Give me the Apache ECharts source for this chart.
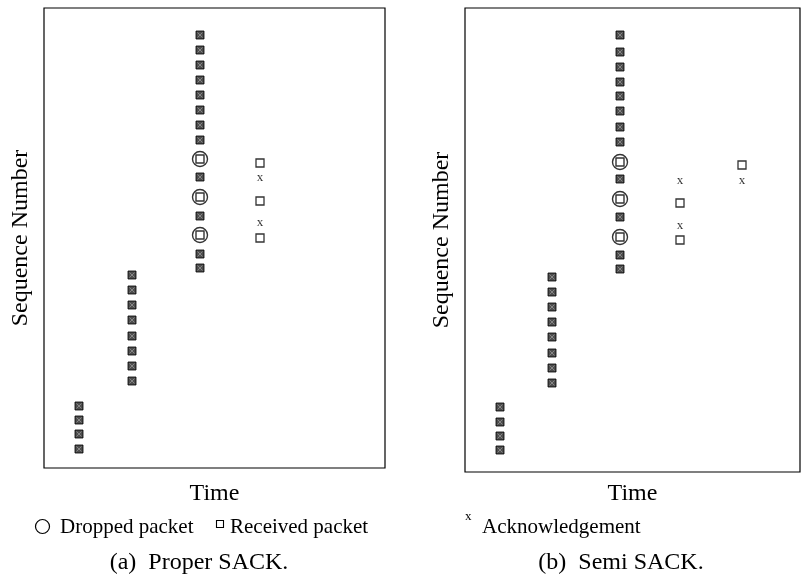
<!DOCTYPE html>
<html>
<head>
<meta charset="utf-8">
<script src="https://cdn.jsdelivr.net/npm/echarts@6/dist/echarts.min.js"></script>
<style>
  html, body { margin: 0; padding: 0; background: #fff; }
  #chart { width: 804px; height: 584px; }
</style>
</head>
<body>
<div id="chart"></div>
<script>
// Time / sequence-number pairs for each trace (time in arbitrary units).
// (a) Proper SACK
const properSent = [
  [3.5, 6.2], [3.5, 4.8], [3.5, 3.4], [3.5, 1.9],
  [8.8, 19.3], [8.8, 17.8], [8.8, 16.3], [8.8, 14.8], [8.8, 13.2], [8.8, 11.7], [8.8, 10.2], [8.8, 8.7],
  [15.6, 43.3], [15.6, 41.8], [15.6, 40.3], [15.6, 38.8], [15.6, 37.3], [15.6, 35.8], [15.6, 34.3], [15.6, 32.8],
  [15.6, 29.1], [15.6, 25.2], [15.6, 21.4], [15.6, 20.0]
];
const properDropped = [[15.6, 30.9], [15.6, 27.1], [15.6, 23.3]];
const properReceived = [[21.6, 30.5], [21.6, 26.7], [21.6, 23.0]];
const properAcks = [[21.6, 29.0], [21.6, 24.5]];

// (b) Semi SACK
const semiSent = [
  [3.5, 6.5], [3.5, 5.0], [3.5, 3.6], [3.5, 2.2],
  [8.7, 19.5], [8.7, 18.0], [8.7, 16.5], [8.7, 15.0], [8.7, 13.5], [8.7, 11.9], [8.7, 10.4], [8.7, 8.9],
  [15.5, 43.7], [15.5, 42.0], [15.5, 40.5], [15.5, 39.0], [15.5, 37.6], [15.5, 36.1], [15.5, 34.5], [15.5, 33.0],
  [15.5, 29.3], [15.5, 25.5], [15.5, 21.7], [15.5, 20.3]
];
const semiDropped = [[15.5, 31.0], [15.5, 27.3], [15.5, 23.5]];
const semiReceived = [[21.5, 26.9], [21.5, 23.2], [27.7, 30.7]];
const semiAcks = [[21.5, 29.1], [21.5, 24.6], [27.7, 29.1]];

const axisTitles = { x: 'Time', y: 'Sequence Number' };
const captions = ['(a)  Proper SACK.', '(b)  Semi SACK.'];
const legendNames = ['Dropped packet', 'Received packet', 'Acknowledgement'];

const SERIF = '"Liberation Serif", "Times New Roman", serif';
const CROSS = 'path://M0,0L10,10M10,0L0,10';

function panelSeries(idx, sent, dropped, received, acks) {
  const base = { type: 'scatter', xAxisIndex: idx, yAxisIndex: idx, silent: true, animation: false };
  return [
    // sent packets: dark square with a light cross
    Object.assign({}, base, {
      name: 'Sent packet', data: sent, symbol: 'rect', symbolSize: 8,
      itemStyle: { color: '#222', borderColor: '#000', borderWidth: 1 }
    }),
    Object.assign({}, base, {
      name: 'Sent packet cross', data: sent, symbol: CROSS, symbolSize: 5,
      itemStyle: { color: 'none', borderColor: '#9a9a9a', borderWidth: 0.9 }
    }),
    // dropped packets: circle around a plain packet square
    Object.assign({}, base, {
      name: legendNames[0], data: dropped, symbol: 'circle', symbolSize: 15,
      itemStyle: { color: '#fff', borderColor: '#000', borderWidth: 1.4 }
    }),
    Object.assign({}, base, {
      name: 'Dropped packet body', data: dropped, symbol: 'rect', symbolSize: 8,
      itemStyle: { color: '#fff', borderColor: '#000', borderWidth: 1.4 }
    }),
    Object.assign({}, base, {
      name: legendNames[1], data: received, symbol: 'rect', symbolSize: 8,
      itemStyle: { color: '#fff', borderColor: '#000', borderWidth: 1.3 }
    }),
    Object.assign({}, base, {
      name: legendNames[2], data: acks, symbol: 'circle', symbolSize: 1,
      itemStyle: { color: 'transparent' },
      label: {
        show: true, position: 'inside', formatter: 'x',
        fontFamily: SERIF, fontSize: 13, color: '#000'
      }
    })
  ];
}

function xAx(idx, max, gap) {
  return {
    type: 'value', gridIndex: idx, min: 0, max: max,
    name: axisTitles.x, nameLocation: 'middle', nameGap: gap,
    nameTextStyle: { fontFamily: SERIF, fontSize: 24, color: '#000' },
    axisLine: { show: false }, axisTick: { show: false },
    axisLabel: { show: false }, splitLine: { show: false }
  };
}
function yAx(idx, max) {
  return {
    type: 'value', gridIndex: idx, min: 0, max: max,
    name: axisTitles.y, nameLocation: 'middle', nameGap: 11,
    nameTextStyle: { fontFamily: SERIF, fontSize: 24, color: '#000' },
    axisLine: { show: false }, axisTick: { show: false },
    axisLabel: { show: false }, splitLine: { show: false }
  };
}

const chart = echarts.init(document.getElementById('chart'), null, { renderer: 'canvas' });

const legendFont = { fontFamily: SERIF, fontSize: 21, fill: '#000' };
const captionFont = { fontFamily: SERIF, fontSize: 24, fill: '#000', align: 'center' };

chart.setOption({
  backgroundColor: '#fff',
  animation: false,
  grid: [
    { left: 44, top: 8, width: 341, height: 460, show: true, borderColor: '#000', borderWidth: 1.2, backgroundColor: '#fff' },
    { left: 465, top: 8, width: 335, height: 464, show: true, borderColor: '#000', borderWidth: 1.2, backgroundColor: '#fff' }
  ],
  xAxis: [xAx(0, 34.1, 14), xAx(1, 33.5, 10)],
  yAxis: [yAx(0, 46.0), yAx(1, 46.4)],
  series: [].concat(
    panelSeries(0, properSent, properDropped, properReceived, properAcks),
    panelSeries(1, semiSent, semiDropped, semiReceived, semiAcks)
  ),
  graphic: [
    // key
    { type: 'circle', shape: { cx: 42.5, cy: 526.5, r: 7 }, style: { fill: '#fff', stroke: '#000', lineWidth: 1.2 } },
    { type: 'text', left: 60, top: 517, style: Object.assign({ text: legendNames[0] }, legendFont) },
    { type: 'rect', shape: { x: 216.5, y: 520.5, width: 7, height: 7 }, style: { fill: '#fff', stroke: '#000', lineWidth: 1.1 } },
    { type: 'text', left: 230, top: 517, style: Object.assign({ text: legendNames[1] }, legendFont) },
    { type: 'text', left: 465, top: 510, style: { text: 'x', fontFamily: SERIF, fontSize: 13, fill: '#000' } },
    { type: 'text', left: 482, top: 517, style: Object.assign({ text: legendNames[2] }, legendFont) },
    // captions
    { type: 'text', x: 199, y: 551, style: Object.assign({ text: captions[0] }, captionFont) },
    { type: 'text', x: 621, y: 551, style: Object.assign({ text: captions[1] }, captionFont) }
  ]
});
</script>
</body>
</html>
